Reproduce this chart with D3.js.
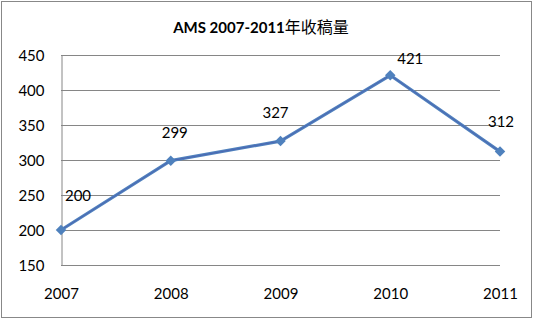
<!DOCTYPE html>
<html>
<head>
<meta charset="utf-8">
<title>AMS 2007-2011年收稿量</title>
<script src="https://d3js.org/d3.v7.min.js"></script>
<style>
	body { margin: 0; background: #fff; }
	text { font-family: Lato, "Noto Sans CJK SC", sans-serif; fill: #000; }
</style>
</head>
<body>
<div id="chart"></div>
<script>

// data
var years = ["2007", "2008", "2009", "2010", "2011"];
var papers = [200, 299, 327, 421, 312];
var yTicks = [150, 200, 250, 300, 350, 400, 450];
var titleLatin = "AMS 2007-2011";
var titleCjk = "年收稿量";

// label nudges (Excel put the value labels a bit off-centre)
var labelDx = [17, 4, -5, 20, 1];
var labelDy = [-29, -23, -23, -11, -25];

var W = 534, H = 320;
var svg = d3.select("#chart").append("svg")
	.attr("width", W)
	.attr("height", H);

// outer frame
svg.append("rect")
	.attr("x", 1.5).attr("y", 1.5)
	.attr("width", 530).attr("height", 316)
	.attr("fill", "#fff")
	.attr("stroke", "#888")
	.attr("stroke-width", 1);

var x = d3.scalePoint().domain(years).range([61, 500]);
var y = d3.scaleLinear().domain([150, 450]).range([265, 55]);

// gridlines
svg.append("g")
	.selectAll("line")
	.data(yTicks)
	.enter()
	.append("line")
	.attr("x1", 61).attr("x2", 500)
	.attr("y1", function(d) { return Math.round(y(d)) + 0.5; })
	.attr("y2", function(d) { return Math.round(y(d)) + 0.5; })
	.attr("stroke", "#868686");

// y axis
var yAxis = svg.append("g")
	.attr("transform", "translate(61.5,0.5)")
	.call(d3.axisLeft(y).tickValues(yTicks).tickSize(0).tickPadding(17));
yAxis.select(".domain").attr("stroke", "#868686");
yAxis.selectAll("text").style("font-size", "15px").attr("fill", "#000");

// x axis labels
var xAxis = svg.append("g")
	.attr("transform", "translate(0,265)")
	.call(d3.axisBottom(x).tickSize(0).tickPadding(23));
xAxis.select(".domain").remove();
xAxis.selectAll("text").style("font-size", "15px").attr("fill", "#000");

// title: latin part bold, chinese part regular like the original
var t = svg.append("text")
	.attr("x", 261)
	.attr("y", 33)
	.attr("text-anchor", "middle")
	.style("font-size", "15px");
t.append("tspan").style("font-weight", "bold").text(titleLatin);
t.append("tspan").style("font-weight", "normal").style("font-size", "16px").text(titleCjk);

// line
var line = d3.line()
	.x(function(d, i) { return x(years[i]); })
	.y(function(d) { return y(d); });

svg.append("path")
	.datum(papers)
	.attr("d", line)
	.attr("fill", "none")
	.attr("stroke", "#4F81BD")
	.attr("stroke-width", 3.2)
	.attr("stroke-linejoin", "round");

svg.append("path")
	.datum(papers)
	.attr("d", line)
	.attr("fill", "none")
	.attr("stroke", "#4a4aa8")
	.attr("stroke-opacity", 0.55)
	.attr("stroke-width", 0.9);

// diamond markers
svg.append("g")
	.selectAll("path")
	.data(papers)
	.enter()
	.append("path")
	.attr("d", d3.symbol().type(d3.symbolDiamond2).size(70))
	.attr("transform", function(d, i) { return "translate(" + x(years[i]) + "," + y(d) + ")"; })
	.attr("fill", "#4F81BD");

// value labels
svg.append("g")
	.selectAll("text")
	.data(papers)
	.enter()
	.append("text")
	.attr("x", function(d, i) { return x(years[i]) + labelDx[i]; })
	.attr("y", function(d, i) { return y(d) + labelDy[i]; })
	.attr("text-anchor", "middle")
	.style("font-size", "15px")
	.text(function(d) { return d; });

</script>
</body>
</html>
